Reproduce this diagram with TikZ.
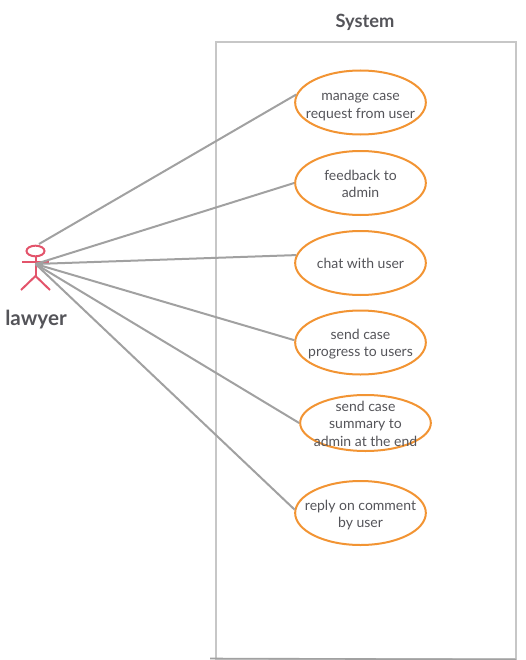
\documentclass[tikz,border=0pt]{standalone}
\usepackage{fontspec}
\setmainfont{Lato}
\usetikzlibrary{shapes.geometric}
\definecolor{usecase}{rgb}{0.95,0.58,0.2}
\definecolor{actorred}{rgb}{0.89,0.33,0.42}
\definecolor{wire}{rgb}{0.63,0.63,0.63}
\definecolor{frame}{rgb}{0.78,0.78,0.78}
\definecolor{ink}{rgb}{0.33,0.33,0.35}
\newcommand{\uclabel}[2][-4.5pt]{\raisebox{#1}[0pt][0pt]{\begin{tabular}{@{}c@{}}#2\end{tabular}}}
\tikzset{
  usecasenode/.style={draw=usecase,line width=1.5pt,ellipse,inner xsep=-28pt,inner ysep=0pt,minimum width=98pt,minimum height=48pt,text=ink,font=\fontsize{10.5}{13}\selectfont},
  wireline/.style={draw=wire,line width=1.5pt},
  actorline/.style={draw=actorred,line width=1.5pt},
}
\begin{document}
\begin{tikzpicture}[x=0.75pt,y=0.75pt,yscale=-1,xscale=1]
\useasboundingbox (0,0) rectangle (525,660);

%System box
\draw [frame,line width=1.5pt] (216,42) rectangle (516,659);
\draw [wire,line width=1.2pt] (210,658.5) -- (516,659.5);
\node [text=ink,font=\fontsize{13.7}{16}\selectfont\bfseries] (title) at (365,22) {System};

%Use cases
\node [usecasenode] (manage) at (360.5,102.5) {\uclabel[-5.4pt]{manage case\\request from user}};
\node [usecasenode] (feedback) at (360.5,183) {\uclabel{feedback to\\admin}};
\node [usecasenode] (chat) at (360.5,263) {\uclabel[-4.1pt]{chat with user}};
\node [usecasenode] (progress) at (360.5,342.5) {\uclabel{send case\\progress to users}};
\node [usecasenode,minimum height=42pt] (summary) at (365.5,423) {\uclabel{send case\\summary to\\admin at the end}};
\node [usecasenode] (reply) at (360.5,513) {\uclabel{reply on comment\\by user}};

%Actor
\node [draw=actorred,line width=1.5pt,ellipse,inner sep=0pt,minimum width=13.5pt,minimum height=8pt] (head) at (35.5,251) {};
\coordinate (hip) at (35.5,276);
\coordinate (lefthand) at (22,262);
\coordinate (righthand) at (49,262);
\coordinate (leftfoot) at (21,290);
\coordinate (rightfoot) at (50,290);
\coordinate (hub) at (35.5,264);
\coordinate (top) at (39,244);
\draw [actorline] (head.south) -- (hip);
\draw [actorline] (lefthand) -- (righthand);
\draw [actorline] (leftfoot) -- (hip) -- (rightfoot);
\node [text=ink,font=\fontsize{15.5}{18}\selectfont\bfseries] (lawyer) at (36,320) {lawyer};

%Connectors
\draw [wireline] (top) -- (manage.173);
\draw [wireline] (hub) -- (feedback.west);
\draw [wireline] (hub) -- (chat.173);
\draw [wireline] (hub) -- (progress.178);
\draw [wireline] (hub) -- (summary.west);
\draw [wireline] (hub) -- (reply.177);
\end{tikzpicture}
\end{document}
